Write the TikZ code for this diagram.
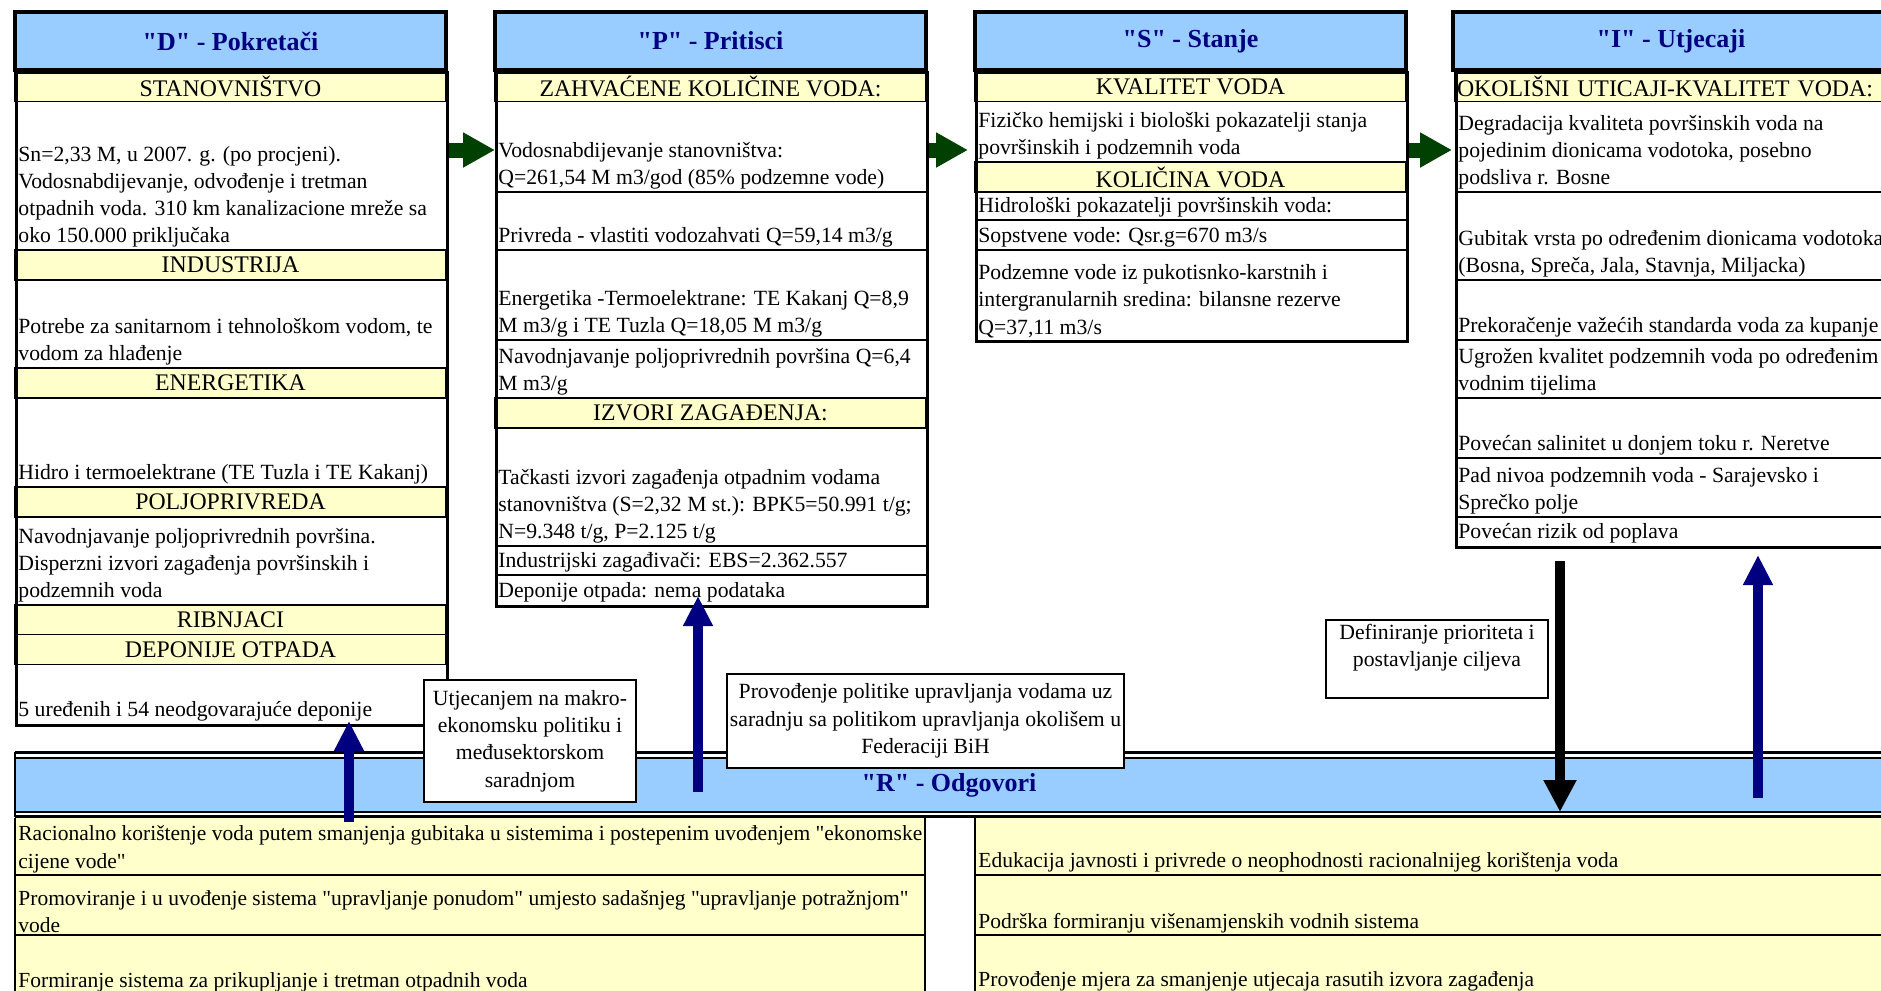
\documentclass[tikz,border=0pt]{standalone}
\usepackage{fontspec}
\setmainfont{Liberation Serif}[Ligatures=TeXOff]
\usepackage{tikz}
\usetikzlibrary{arrows.meta, positioning, calc}
\definecolor{hdrblue}{RGB}{153,204,255}
\definecolor{bandyellow}{RGB}{255,255,204}
\definecolor{mynavy}{RGB}{0,0,128}
\definecolor{mygreen}{RGB}{0,64,0}
\tikzset{
  hdr/.style={rectangle, draw=black, fill=hdrblue, line width=2pt,
    minimum width=215.5pt, minimum height=29pt, inner sep=0pt,
    font=\fontsize{13}{15}\selectfont\bfseries, text=mynavy},
  tab/.style={rectangle, draw=black, line width=1.5pt, inner sep=0pt, anchor=north west},
  band/.style={rectangle, draw=black, fill=bandyellow, line width=0.75pt,
    minimum width=215.5pt, minimum height=15pt, inner sep=0pt,
    font=\fontsize{11.9}{13.65}\selectfont},
  cell/.style={anchor=south west, align=left, inner sep=1pt,
    font=\fontsize{10.85}{13.65}\selectfont},
  rcell/.style={cell, font=\fontsize{10.75}{13.65}\selectfont},
  sep/.style={line width=0.75pt, color=black},
  notebox/.style={rectangle, draw=black, fill=white, line width=0.6pt,
    align=center, inner sep=1pt, font=\fontsize{10.85}{13.65}\selectfont},
  greenarrow/.style={line width=7.5pt, color=mygreen, -{Triangle[length=16pt, width=16.5pt]}},
  bluearrow/.style={line width=5pt, color=mynavy, -{Triangle[length=15pt, width=14pt]}},
  blackarrow/.style={line width=5pt, color=black, -{Triangle[length=16pt, width=15.5pt]}}
}
\begin{document}
\begin{tikzpicture}[x=0.5pt, y=-0.5pt]
  \useasboundingbox (0,0) rectangle (1881,991);
  \clip (0,0) rectangle (1881,991);

  % Headers
  \node[hdr] (hdrD) at (230.5,41) {"D" - Pokretači};
  \node[hdr] (hdrP) at (710.5,41) {"P" - Pritisci};
  \node[hdr] (hdrS) at (1190.5,41) {"S" - Stanje};
  \node[hdr, minimum width=218pt] (hdrI) at (1671,41) {"I" - Utjecaji};

  % "D" - Pokretaci
  \node[band] (stanD) at (230.5,86.5) {STANOVNIŠTVO};
  \node[cell] (stanTxt) at (16,250) {Sn=2,33 M, u 2007. g. (po procjeni).\\Vodosnabdijevanje, odvođenje i tretman\\otpadnih voda. 310 km kanalizacione mreže sa\\oko 150.000 priključaka};
  \node[band] (indD) at (230.5,265) {INDUSTRIJA};
  \node[cell] (indTxt) at (16,368) {Potrebe za sanitarnom i tehnološkom vodom, te\\vodom za hlađenje};
  \node[band] (enD) at (230.5,383) {ENERGETIKA};
  \node[cell] (enTxt) at (16,487) {Hidro i termoelektrane (TE Tuzla i TE Kakanj)};
  \node[band] (polD) at (230.5,502) {POLJOPRIVREDA};
  \node[cell] (polTxt) at (16,605) {Navodnjavanje poljoprivrednih površina.\\Disperzni izvori zagađenja površinskih i\\podzemnih voda};
  \node[band] (ribD) at (230.5,620) {RIBNJACI};
  \node[band] (depD) at (230.5,649.5) {DEPONIJE OTPADA};
  \node[cell] (depTxt) at (16,724) {5 uređenih i 54 neodgovarajuće deponije};
  \node[tab, minimum width=215.5pt, minimum height=326.5pt] (tabD) at (15,71) {};

  % "P" - Pritisci
  \node[band] (zahP) at (710.5,86.5) {ZAHVAĆENE KOLIČINE VODA:};
  \node[cell] (vodTxt) at (496,192) {Vodosnabdijevanje stanovništva:\\Q=261,54 M m3/god (85\% podzemne vode)};
  \node[cell] (privTxt) at (496,250) {Privreda - vlastiti vodozahvati Q=59,14 m3/g};
  \node[cell] (energTxt) at (496,340) {Energetika -Termoelektrane: TE Kakanj Q=8,9\\M m3/g i TE Tuzla Q=18,05 M m3/g};
  \node[cell] (navTxt) at (496,398) {Navodnjavanje poljoprivrednih površina Q=6,4\\M m3/g};
  \node[band] (izvP) at (710.5,413) {IZVORI ZAGAĐENJA:};
  \node[cell] (tackTxt) at (496,546) {Tačkasti izvori zagađenja otpadnim vodama\\stanovništva (S=2,32 M st.): BPK5=50.991 t/g;\\N=9.348 t/g, P=2.125 t/g};
  \node[cell] (indzTxt) at (496,575) {Industrijski zagađivači: EBS=2.362.557};
  \node[cell] (deppTxt) at (496,605) {Deponije otpada: nema podataka};
  \foreach \y in {192,250,340,546,575}
    \draw[sep] (495,\y) -- (926,\y);
  \node[tab, minimum width=215.5pt, minimum height=267pt] (tabP) at (495,71) {};

  % "S" - Stanje
  \node[band] (kvalS) at (1190.5,86.5) {KVALITET VODA};
  \node[cell] (fizTxt) at (976,162) {Fizičko hemijski i biološki pokazatelji stanja\\površinskih i podzemnih voda};
  \node[band] (kolS) at (1190.5,177) {KOLIČINA VODA};
  \node[cell] (hidTxt) at (976,220) {Hidrološki pokazatelji površinskih voda:};
  \node[cell] (sopTxt) at (976,250) {Sopstvene vode: Qsr.g=670 m3/s};
  \node[cell] (podTxt) at (976,340) {Podzemne vode iz pukotisnko-karstnih i\\intergranularnih sredina: bilansne rezerve\\Q=37,11 m3/s};
  \foreach \y in {220,250}
    \draw[sep] (975,\y) -- (1406,\y);
  \node[tab, minimum width=215.5pt, minimum height=134.5pt] (tabS) at (975,71) {};

  % "I" - Utjecaji
  \node[band, minimum width=225pt, text width=223pt, inner xsep=1pt, align=left] (okoI) at (1680,86.5) {OKOLIŠNI UTICAJI-KVALITET VODA:};
  \node[cell] (degTxt) at (1456,192) {Degradacija kvaliteta površinskih voda na\\pojedinim dionicama vodotoka, posebno\\podsliva r. Bosne};
  \node[cell] (gubTxt) at (1456,280) {Gubitak vrsta po određenim dionicama vodotoka\\(Bosna, Spreča, Jala, Stavnja, Miljacka)};
  \node[cell] (preTxt) at (1456,340) {Prekoračenje važećih standarda voda za kupanje};
  \node[cell] (ugrTxt) at (1456,398) {Ugrožen kvalitet podzemnih voda po određenim\\vodnim tijelima};
  \node[cell] (salTxt) at (1456,458) {Povećan salinitet u donjem toku r. Neretve};
  \node[cell] (padTxt) at (1456,517) {Pad nivoa podzemnih voda - Sarajevsko i\\Sprečko polje};
  \node[cell] (rizTxt) at (1456,546) {Povećan rizik od poplava};
  \foreach \y in {192,280,340,398,458,517}
    \draw[sep] (1455,\y) -- (1905,\y);
  \node[tab, minimum width=225pt, minimum height=237.5pt] (tabI) at (1455,71) {};

  % "R" - Odgovori
  \node[rectangle, fill=hdrblue, minimum width=945pt, minimum height=27.5pt,
    inner sep=0pt, anchor=north west] (resp) at (15,757) {};
  \draw[line width=1.5pt] (15,752.5) -- (1905,752.5);
  \draw[line width=1pt] (15,757.5) -- (1905,757.5);
  \draw[line width=1pt] (15,811.5) -- (1905,811.5);
  \draw[line width=1.5pt] (15,816.5) -- (1905,816.5);
  \draw[line width=1pt] (15,752) -- (15,817);
  \node[font=\fontsize{13}{15}\selectfont\bfseries, text=mynavy] (respTitle) at (949,785) {"R" - Odgovori};

  % Odgovori - lijevo
  \fill[bandyellow] (15,818) rectangle (925,995);
  \draw[sep] (15,818) -- (15,995);
  \draw[sep] (925,818) -- (925,995);
  \foreach \y in {875,935}
    \draw[sep] (15,\y) -- (925,\y);
  \node[rcell] (racTxt) at (16,875) {Racionalno korištenje voda putem smanjenja gubitaka u sistemima i postepenim uvođenjem "ekonomske\\cijene vode"};
  \node[rcell] (proTxt) at (16,935) {Promoviranje i u uvođenje sistema "upravljanje ponudom" umjesto sadašnjeg "upravljanje potražnjom"\\vode};
  \node[rcell] (forTxt) at (16,994) {Formiranje sistema za prikupljanje i tretman otpadnih voda};

  % Odgovori - desno
  \fill[bandyellow] (975,818) rectangle (1905,995);
  \draw[sep] (975,818) -- (975,995);
  \foreach \y in {875,935}
    \draw[sep] (975,\y) -- (1905,\y);
  \node[rcell] (eduTxt) at (976,875) {Edukacija javnosti i privrede o neophodnosti racionalnijeg korištenja voda};
  \node[rcell] (podrTxt) at (976,935) {Podrška formiranju višenamjenskih vodnih sistema};
  \node[rcell] (mjTxt) at (976,994) {Provođenje mjera za smanjenje utjecaja rasutih izvora zagađenja};

  % Napomene
  \node[notebox, minimum width=106pt, minimum height=61pt] (macroBox) at (530,741)
    {Utjecanjem na makro-\\ekonomsku politiku i\\međusektorskom\\saradnjom};
  \node[notebox, minimum width=198.5pt, minimum height=47pt] (polBox) at (925.5,721)
    {Provođenje politike upravljanja vodama uz\\saradnju sa politikom upravljanja okolišem u\\Federaciji BiH};
  \node[notebox, minimum width=111pt, minimum height=39pt] (ciljBox) at (1437,659) {};
  \node[notebox, draw=none, fill=none, below=1pt of ciljBox.north] (ciljTxt)
    {Definiranje prioriteta i\\postavljanje ciljeva};

  % Strelice
  \draw[greenarrow] ([yshift=-39.5pt]tabD.north east) -- ([yshift=-39.5pt]tabP.north west);
  \draw[greenarrow] ([yshift=-39.5pt]tabP.north east) -- ([xshift=-3.5pt, yshift=-39.5pt]tabS.north west);
  \draw[greenarrow] ([yshift=-39.5pt]tabS.north east) -- ([xshift=-1.5pt, yshift=-39.5pt]tabI.north west);
  \coordinate (upD) at (349,822);
  \coordinate (upP) at (698,792);
  \coordinate (upI) at (1758,798);
  \coordinate (downI) at (1560,812);
  \draw[bluearrow] (upD) -- ($(tabD.south -| upD)+(0,-6)$);
  \draw[bluearrow] (upP) -- ($(tabP.south -| upP)+(0,-12)$);
  \draw[bluearrow] (upI) -- ($(tabI.south -| upI)+(0,6)$);
  \draw[blackarrow] ($(tabI.south -| downI)+(0,12)$) -- (downI);
\end{tikzpicture}
\end{document}
